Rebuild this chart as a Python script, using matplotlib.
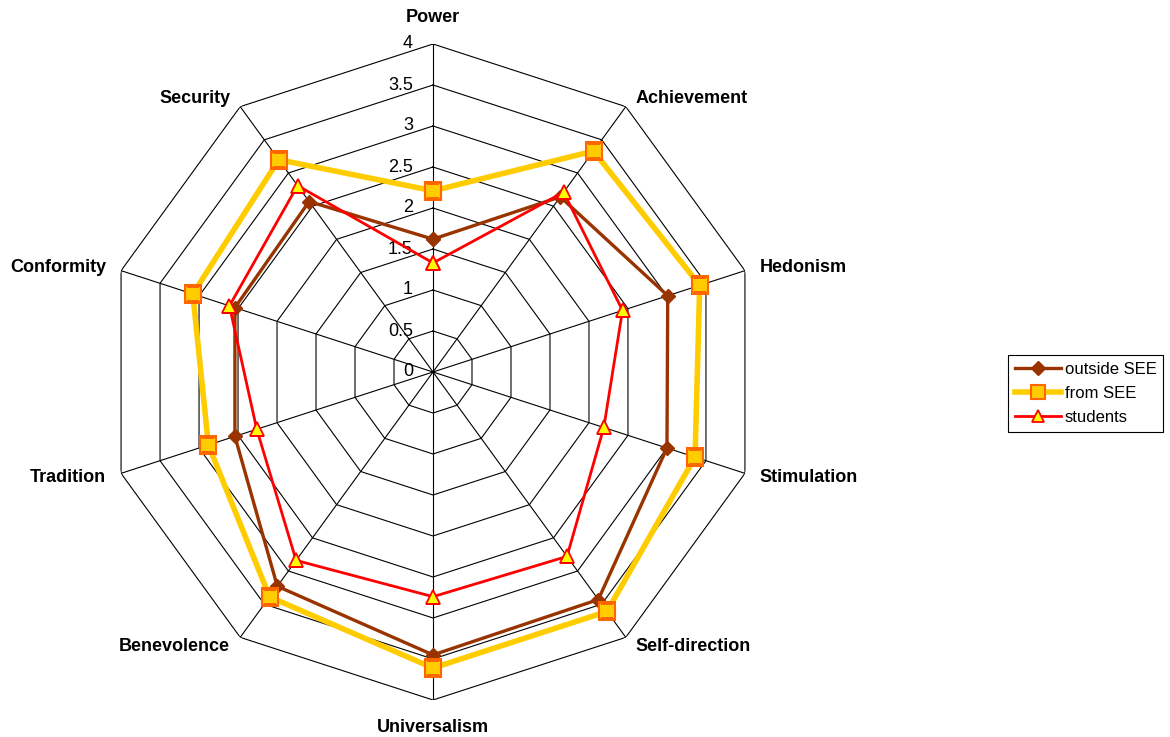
import numpy as np
import matplotlib
matplotlib.use("Agg")
import matplotlib.pyplot as plt
from matplotlib.lines import Line2D

plt.rcParams['font.family'] = ['Liberation Sans', 'DejaVu Sans']

# --- data ---
categories = ['Power', 'Achievement', 'Hedonism', 'Stimulation', 'Self-direction',
              'Universalism', 'Benevolence', 'Tradition', 'Conformity', 'Security']
outside_see = [1.62, 2.64, 3.01, 3.00, 3.43, 3.45, 3.23, 2.54, 2.54, 2.57]
from_see = [2.21, 3.33, 3.42, 3.36, 3.61, 3.61, 3.39, 2.88, 3.08, 3.20]
students = [1.33, 2.71, 2.43, 2.19, 2.78, 2.74, 2.84, 2.26, 2.61, 2.81]
ring_levels = [0.5, 1, 1.5, 2, 2.5, 3, 3.5, 4]
tick_labels = ['0', '0.5', '1', '1.5', '2', '2.5', '3', '3.5', '4']
tick_values = [0, 0.5, 1, 1.5, 2, 2.5, 3, 3.5, 4]

n = len(categories)
theta = np.linspace(0, 2 * np.pi, n, endpoint=False)
theta_closed = np.append(theta, theta[0])


def closed(vals):
    return np.append(vals, vals[0])


fig = plt.figure(figsize=(11.7, 7.37), dpi=100)
ax = fig.add_axes([105 / 1170, 37 / 737, 656 / 1170, 656 / 737], projection='polar')
ax.set_theta_offset(np.pi / 2)
ax.set_theta_direction(-1)
ax.set_ylim(0, 4)
ax.grid(False)
ax.set_xticks([])
ax.set_yticks([])
ax.spines['polar'].set_visible(False)
ax.patch.set_visible(False)

# polygon grid
for r in ring_levels:
    ax.plot(theta_closed, [r] * (n + 1), color='black', lw=0.8, zorder=1)
for t in theta:
    ax.plot([t, t], [0, 4], color='black', lw=0.8, zorder=1)

# value axis labels
for v, lab in zip(tick_values, tick_labels):
    ax.annotate(lab, xy=(0, v), xytext=(-20, 0), textcoords='offset pixels',
                ha='right', va='center', fontsize=13)

# category labels
offsets = {
    'Power': (0, 26, 'center'),
    'Achievement': (10, 8, 'left'),
    'Hedonism': (15, 3, 'left'),
    'Stimulation': (15, -4, 'left'),
    'Self-direction': (10, -9, 'left'),
    'Universalism': (0, -27, 'center'),
    'Benevolence': (-10, -9, 'right'),
    'Tradition': (-15, -4, 'right'),
    'Conformity': (-15, 3, 'right'),
    'Security': (-10, 8, 'right'),
}
for t, cat in zip(theta, categories):
    dx, dy, ha = offsets[cat]
    ax.annotate(cat, xy=(t, 4), xytext=(dx, dy), textcoords='offset pixels',
                ha=ha, va='center', fontsize=13, fontweight='bold')

# series
ax.plot(theta_closed, closed(outside_see), color='#993300', lw=2.4,
        marker='D', markersize=7, markerfacecolor='#993300', markeredgecolor='#993300', zorder=3)
ax.plot(theta_closed, closed(from_see), color='#FFCC00', lw=4,
        marker='s', markersize=12, markerfacecolor='#FFCC00', markeredgecolor='#FF6600',
        markeredgewidth=1.5, zorder=4)
ax.plot(theta_closed, closed(students), color='#FF0000', lw=2,
        marker='^', markersize=10, markerfacecolor='#FFFF00', markeredgecolor='#FF0000',
        markeredgewidth=1.3, zorder=5)

handles = [
    Line2D([], [], color='#993300', lw=2.4, marker='D', markersize=7,
           markerfacecolor='#993300', markeredgecolor='#993300'),
    Line2D([], [], color='#FFCC00', lw=4, marker='s', markersize=10,
           markerfacecolor='#FFCC00', markeredgecolor='#FF6600', markeredgewidth=1.5),
    Line2D([], [], color='#FF0000', lw=2, marker='^', markersize=9,
           markerfacecolor='#FFFF00', markeredgecolor='#FF0000', markeredgewidth=1.3),
]
leg = fig.legend(handles, ['outside SEE', 'from SEE', 'students'],
                 loc='upper left', bbox_to_anchor=(1008 / 1170, 1 - 355 / 737),
                 fontsize=12, frameon=True, fancybox=False, framealpha=1,
                 edgecolor='black', handlelength=2.8, handletextpad=0.2,
                 borderpad=0.4, labelspacing=0.55, borderaxespad=0)
leg.get_frame().set_linewidth(0.8)

fig.savefig('out.png', dpi=100)
